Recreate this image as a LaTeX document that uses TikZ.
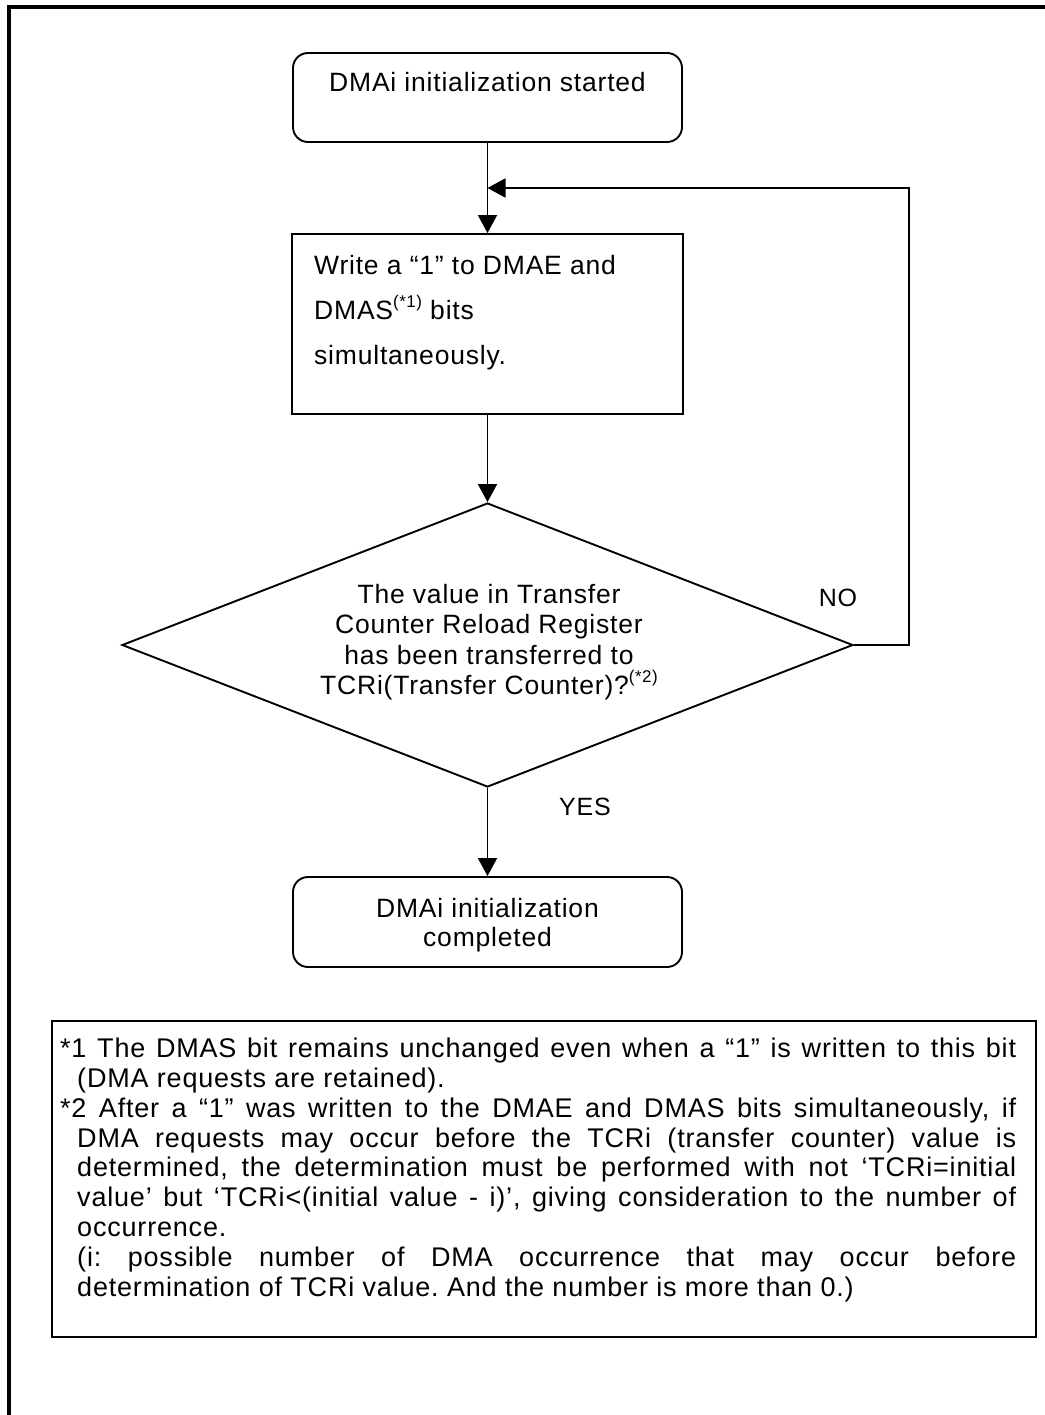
\documentclass[tikz,border=0pt]{standalone}
\usepackage{fontspec}
\setmainfont[LetterSpace=3]{Liberation Sans}
\usetikzlibrary{arrows.meta,shapes.geometric}
\newcommand{\refmark}[1]{\raisebox{0.45em}{\fontsize{17}{17}\selectfont #1}}
\frenchspacing

\begin{document}
\begin{tikzpicture}[x=1pt,y=1pt,yscale=-1,xscale=1,
    termbox/.style={draw, line width=1.9pt, rounded corners=15pt, minimum width=389pt, inner sep=0pt},
    procbox/.style={draw, line width=1.9pt, minimum width=391pt, minimum height=180pt, inner sep=0pt},
    decbox/.style={draw, line width=1.9pt, diamond, minimum width=731pt, minimum height=284pt, inner sep=0pt},
    flow/.style={line width=1.9pt, -{Triangle[length=18pt,width=19pt]}},
    boxtext/.style={inner sep=0pt, font=\fontsize{26.5}{30}\selectfont},
    lbl/.style={inner sep=0pt, font=\fontsize{25}{25}\selectfont},
    notetext/.style={inner sep=0pt, align=left, font=\fontsize{27}{29.8}\selectfont}]
    \useasboundingbox (0,0) rectangle (1044,1415);

    %Shape: Frame
    \draw [line width=3.5pt] (1050,7) -- (9,7) -- (9,1420) ;
    %Shape: Rounded Rectangle [start]
    \node [termbox, minimum height=89pt] (start) at (487.5,97.5) {};
    %Shape: Rectangle [write]
    \node [procbox] (write) at (487.5,324) {};
    %Shape: Diamond [decide]
    \node [decbox] (decide) at (487.5,645) {};
    %Shape: Rounded Rectangle [finish]
    \node [termbox, minimum height=90pt] (finish) at (487.5,922) {};
    %Shape: Rectangle [notes]
    \node [draw, line width=2.4pt, minimum width=984pt, minimum height=316pt, inner sep=0pt] (notebox) at (544,1179) {};

    \coordinate (merge) at (487.5,188);
    \coordinate (loopr) at (909,188);
    %Straight Lines
    \draw [flow] (start) -- (write) ;
    \draw [flow] (write) -- (decide) ;
    \draw [flow] (decide) -- (finish) ;
    \draw [flow] (decide.east) -| (loopr) -- (merge) ;

    % Text Node
    \node [boxtext, anchor=base] (starttxt) at (487.5,92) {DMAi initialization started};
    % Text Node
    \node [boxtext, anchor=north west, align=left, font=\fontsize{26.5}{45}\selectfont] (writetxt) at (314,255) {Write a “1” to DMAE and\\DMAS\refmark{(*1)} bits\\simultaneously.};
    % Text Node
    \node [boxtext, anchor=north, align=center, font=\fontsize{26.5}{30.5}\selectfont] (decidetxt) at (489,584) {The value in Transfer\\Counter Reload Register\\has been transferred to\\TCRi(Transfer Counter)?\refmark{(*2)}};
    % Text Node
    \node [lbl, anchor=base] (nolbl) at (838,606) {NO};
    % Text Node
    \node [lbl, anchor=base] (yeslbl) at (585,815) {YES};
    % Text Node
    \node [boxtext, anchor=north, align=center, font=\fontsize{26.5}{29}\selectfont] (finishtxt) at (487.5,898) {DMAi initialization\\completed};
    % Text Node
    \node [notetext, anchor=north west] (notetxt) at (60,1038) {\makebox[956pt][s]{*1 The DMAS bit remains unchanged even when a “1” is written to this bit}\\
    \hspace*{17pt}(DMA requests are retained).\\
    \makebox[956pt][s]{*2 After a “1” was written to the DMAE and DMAS bits simultaneously, if}\\
    \hspace*{17pt}\makebox[939pt][s]{DMA requests may occur before the TCRi (transfer counter) value is}\\
    \hspace*{17pt}\makebox[939pt][s]{determined, the determination must be performed with not ‘TCRi=initial}\\
    \hspace*{17pt}\makebox[939pt][s]{value’ but ‘TCRi<(initial value - i)’, giving consideration to the number of}\\
    \hspace*{17pt}occurrence.\\
    \hspace*{17pt}\makebox[939pt][s]{(i: possible number of DMA occurrence that may occur before}\\
    \hspace*{17pt}determination of TCRi value. And the number is more than 0.)};
\end{tikzpicture}
\end{document}
